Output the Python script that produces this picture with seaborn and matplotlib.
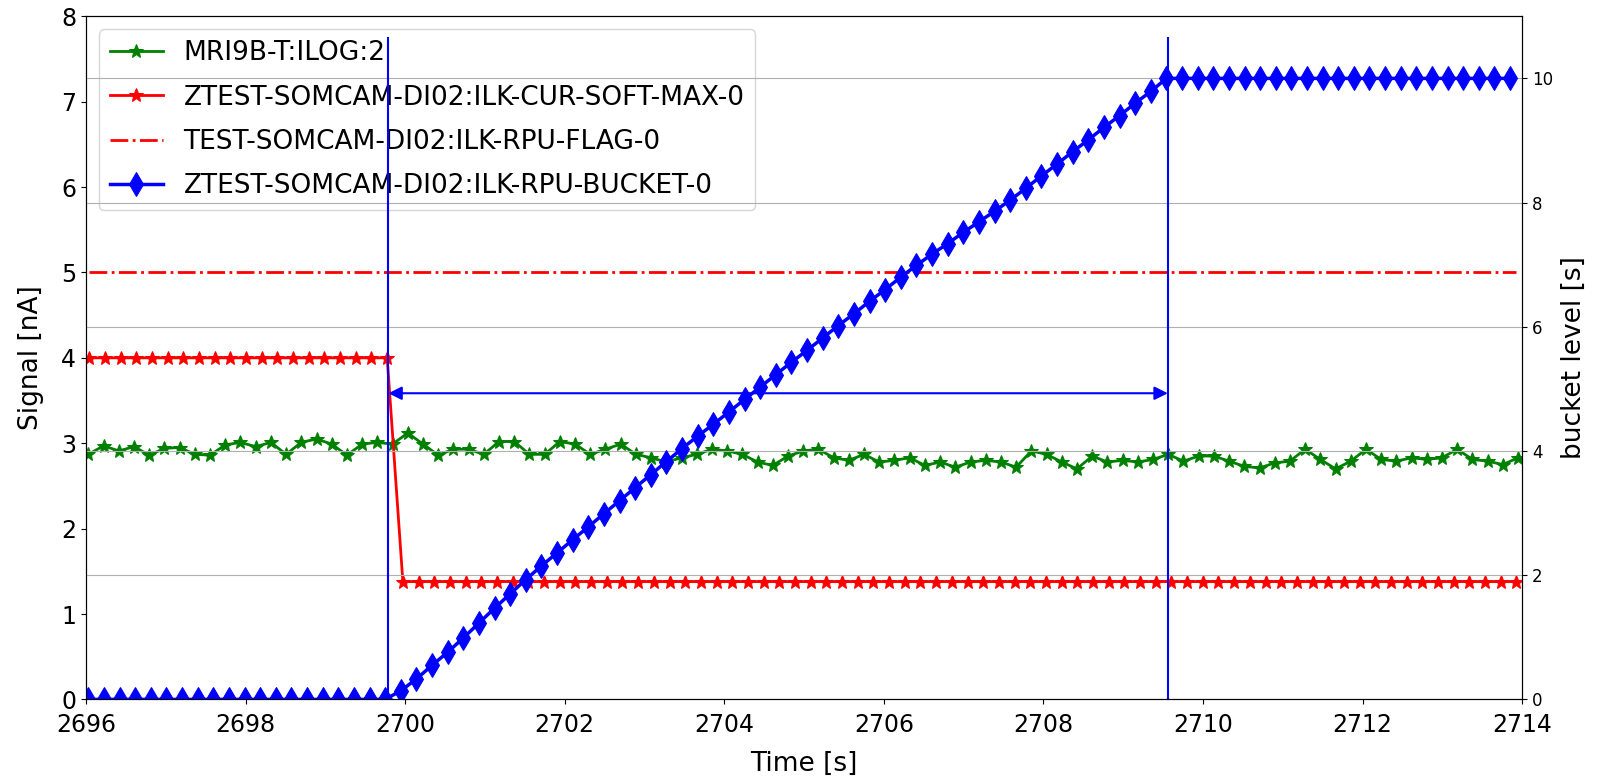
import numpy as np
import matplotlib
matplotlib.use("Agg")
import matplotlib.pyplot as plt
import seaborn as sns

# signal traces
green_label = "MRI9B-T:ILOG:2"
green_vals = [
    2.87, 2.97, 2.91, 2.96, 2.86, 2.94, 2.95, 2.87, 2.86, 2.98,
    3.01, 2.96, 3.01, 2.87, 3.01, 3.05, 2.99, 2.86, 2.99, 3.01,
    2.99, 3.12, 2.99, 2.86, 2.93, 2.93, 2.87, 3.02, 3.02, 2.87,
    2.87, 3.02, 2.99, 2.87, 2.93, 2.99, 2.87, 2.83, 2.78, 2.83,
    2.87, 2.93, 2.91, 2.87, 2.78, 2.74, 2.85, 2.91, 2.93, 2.83,
    2.80, 2.87, 2.78, 2.80, 2.83, 2.74, 2.78, 2.72, 2.78, 2.80,
    2.78, 2.72, 2.91, 2.87, 2.78, 2.70, 2.85, 2.78, 2.80, 2.78,
    2.81, 2.87, 2.79, 2.85, 2.85, 2.79, 2.73, 2.71, 2.77, 2.79,
    2.93, 2.81, 2.70, 2.79, 2.93, 2.81, 2.79, 2.83, 2.81, 2.83,
    2.93, 2.81, 2.79, 2.75, 2.83,
]
green_t = np.linspace(2696.03, 2713.95, len(green_vals))

red_label = "ZTEST-SOMCAM-DI02:ILK-CUR-SOFT-MAX-0"
red_vals = [4.0] * 20 + [1.38] * 72
red_t = np.linspace(2696.04, 2713.93, len(red_vals))

flag_label = "TEST-SOMCAM-DI02:ILK-RPU-FLAG-0"
flag_vals = [5.0] * len(red_vals)

bucket_label = "ZTEST-SOMCAM-DI02:ILK-RPU-BUCKET-0"
bucket_vals = [0.0] * 20 + [
    0.14, 0.33, 0.55, 0.76, 0.99, 1.23, 1.47, 1.70, 1.93, 2.15,
    2.36, 2.57, 2.78, 2.99, 3.20, 3.41, 3.62, 3.83, 4.04, 4.24,
    4.43, 4.63, 4.83, 5.03, 5.23, 5.43, 5.62, 5.82, 6.02, 6.21,
    6.41, 6.60, 6.80, 6.99, 7.17, 7.34, 7.52, 7.69, 7.86, 8.04,
    8.23, 8.43, 8.62, 8.82, 9.01, 9.21, 9.40, 9.60, 9.79, 10.0,
] + [10.0] * 22
bucket_t = np.linspace(2696.03, 2713.85, len(bucket_vals))

# bucket fill window markers
t_start = 2699.79
t_full = 2709.56
marker_top = 10.67
arrow_level = 4.93

plt.rcParams["font.family"] = ["DejaVu Sans"]

fig = plt.figure(figsize=(16.01, 7.76), dpi=100)
ax1 = fig.add_axes([0.0537, 0.0987, 0.8970, 0.8803])
ax2 = ax1.twinx()

sns.lineplot(x=green_t, y=green_vals, ax=ax1, color="g", marker="*",
             markersize=10, markeredgecolor="g", linewidth=2)
h_green = ax1.get_lines()[-1]
sns.lineplot(x=red_t, y=red_vals, ax=ax1, color="r", marker="*",
             markersize=10, markeredgecolor="r", linewidth=2)
h_red = ax1.get_lines()[-1]
sns.lineplot(x=red_t, y=flag_vals, ax=ax1, color="r", linestyle="-.",
             linewidth=2)
h_flag = ax1.get_lines()[-1]

sns.lineplot(x=bucket_t, y=bucket_vals, ax=ax2, color="b", marker="d",
             markersize=12, markeredgecolor="b", linewidth=2.5)
h_bucket = ax2.get_lines()[-1]

ax2.vlines([t_start, t_full], 0, marker_top, colors="b", linewidth=1.5)
ax2.annotate("", xy=(t_start, arrow_level), xytext=(t_full, arrow_level),
             arrowprops=dict(arrowstyle="<|-|>", color="b", lw=1.5,
                             mutation_scale=20, shrinkA=0, shrinkB=0))

ax1.set_xlim(2696, 2714)
ax1.set_ylim(0, 8)
ax2.set_ylim(0, 11)
ax1.set_xticks(np.arange(2696, 2715, 2))
ax2.set_yticks(np.arange(0, 11, 2))
ax2.grid(True, axis="y")

ax1.tick_params(labelsize=17)
ax1.tick_params(axis="x", pad=6)
ax2.tick_params(labelsize=12)
ax1.set_xlabel("Time [s]", fontsize=19, labelpad=10)
ax1.set_ylabel("Signal [nA]", fontsize=19, labelpad=12)
ax2.set_ylabel("bucket level [s]", fontsize=19, labelpad=6)

ax1.legend([h_green, h_red, h_flag, h_bucket],
           [green_label, red_label, flag_label, bucket_label],
           loc="upper left", fontsize=19, labelspacing=0.7)

fig.savefig("out.png", dpi=100)
